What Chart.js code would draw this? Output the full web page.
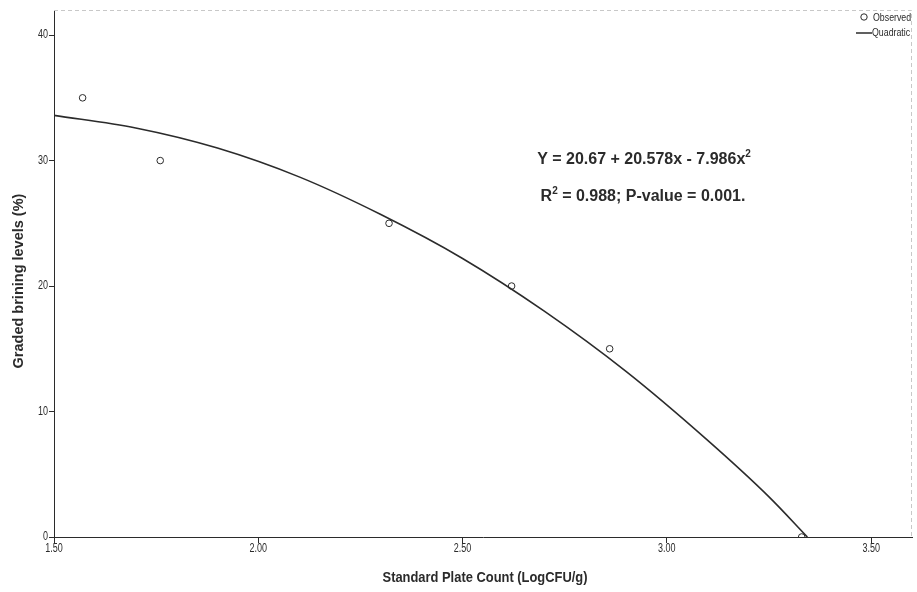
<!DOCTYPE html>
<html>
<head>
<meta charset="utf-8">
<script src="https://cdn.jsdelivr.net/npm/chart.js@4.4.1/dist/chart.umd.min.js"></script>
<style>
    html, body { margin: 0; padding: 0; background: #fff; }
    #wrap { width: 917px; height: 592px; }
</style>
</head>
<body>
<div id="wrap"><canvas id="chart" width="917" height="592"></canvas></div>
<script>
// observed points
const obsX = [1.57, 1.76, 2.32, 2.62, 2.86, 3.33];
const obsY = [35, 30, 25, 20, 15, 0];

// quadratic fit line
const fitX = [1.50, 1.70, 1.90, 2.10, 2.30, 2.50, 2.70, 2.90, 3.10, 3.25, 3.344];
const fitY = [33.6, 32.6, 31.0, 28.7, 25.7, 22.2, 18.0, 13.2, 7.7, 3.2, 0];

const xTicks = [1.5, 2.0, 2.5, 3.0, 3.5];
const yTicks = [0, 10, 20, 30, 40];

const sans = "'Liberation Sans', Arial, sans-serif";
const ink = "#2b2b2b";

const toPts = (xs, ys) => xs.map((x, i) => ({ x: x, y: ys[i] }));

// narrow text: Liberation Sans squeezed sideways
function narrowText(c, txt, x, y, squeeze, align) {
    c.save();
    c.translate(x, y);
    c.scale(squeeze, 1);
    c.textAlign = align;
    c.fillText(txt, 0, 0);
    c.restore();
}

// text with a raised small "2"
function supText(c, parts, cx, y, size) {
    c.save();
    const big = "bold " + size + "px " + sans;
    const small = "bold " + Math.round(size * 0.62) + "px " + sans;
    let total = 0;
    parts.forEach(p => {
        c.font = p.sup ? small : big;
        total += c.measureText(p.t).width;
    });
    let x = cx - total / 2;
    c.textAlign = "left";
    parts.forEach(p => {
        c.font = p.sup ? small : big;
        c.fillText(p.t, x, p.sup ? y - size * 0.42 : y);
        x += c.measureText(p.t).width;
    });
    c.restore();
}

const extras = {
    id: "extras",
    afterDraw(chart) {
        const c = chart.ctx;
        const a = chart.chartArea;
        const sx = chart.scales.x;
        const sy = chart.scales.y;
        c.save();

        // dashed frame top / right
        c.strokeStyle = "#c8c8c8";
        c.lineWidth = 1;
        c.setLineDash([4, 3]);
        c.beginPath();
        c.moveTo(a.left, a.top + 0.5);
        c.lineTo(a.right - 0.5, a.top + 0.5);
        c.lineTo(a.right - 0.5, a.bottom);
        c.stroke();
        c.setLineDash([]);

        c.fillStyle = ink;
        c.strokeStyle = ink;

        // tick labels
        c.font = "12px " + sans;
        c.textBaseline = "middle";
        sx.ticks.forEach(t => {
            narrowText(c, t.value.toFixed(2), sx.getPixelForValue(t.value), a.bottom + 12, 0.75, "center");
        });
        sy.ticks.forEach(t => {
            narrowText(c, String(t.value), a.left - 6, sy.getPixelForValue(t.value), 0.75, "right");
        });

        // axis titles
        c.font = "bold 15px " + sans;
        narrowText(c, "Standard Plate Count (LogCFU/g)", 485, 578, 0.86, "center");

        c.save();
        c.translate(19, 281);
        c.rotate(-Math.PI / 2);
        c.font = "bold 14.5px " + sans;
        c.textAlign = "center";
        c.fillText("Graded brining levels (%)", 0, 0);
        c.restore();

        // legend
        c.font = "11px " + sans;
        c.lineWidth = 1;
        c.beginPath();
        c.arc(864, 17, 3.2, 0, Math.PI * 2);
        c.stroke();
        narrowText(c, "Observed", 873, 18, 0.8, "left");
        c.lineWidth = 1.5;
        c.beginPath();
        c.moveTo(856, 33);
        c.lineTo(872, 33);
        c.stroke();
        narrowText(c, "Quadratic", 872, 33, 0.8, "left");

        // equation
        c.textBaseline = "alphabetic";
        supText(c, [
            { t: "Y = 20.67 + 20.578x - 7.986x" },
            { t: "2", sup: true }
        ], 644, 164, 16);
        supText(c, [
            { t: "R" },
            { t: "2", sup: true },
            { t: " = 0.988; P-value = 0.001." }
        ], 643, 201, 16);

        c.restore();
    }
};

new Chart(
    document.getElementById("chart"),
    {
        type: "scatter",

        data: {
            datasets: [
                {
                    label: "Quadratic",
                    data: toPts(fitX, fitY),
                    showLine: true,
                    borderColor: ink,
                    borderWidth: 1.6,
                    pointRadius: 0,
                    cubicInterpolationMode: "monotone",
                    order: 2
                },
                {
                    label: "Observed",
                    data: toPts(obsX, obsY),
                    pointRadius: 3.3,
                    pointBorderWidth: 1,
                    pointBackgroundColor: "rgba(0,0,0,0)",
                    pointBorderColor: ink,
                    order: 1
                }
            ]
        },

        options: {
            responsive: false,
            animation: false,
            layout: {
                padding: { top: 10, right: 2, left: 0, bottom: 0 }
            },
            plugins: {
                legend: { display: false },
                tooltip: { enabled: false }
            },
            scales: {
                x: {
                    type: "linear",
                    min: 1.5,
                    max: 3.6,
                    afterBuildTicks: s => { s.ticks = xTicks.map(v => ({ value: v })); },
                    afterFit: s => { s.height = 55; },
                    ticks: { display: false },
                    grid: {
                        drawOnChartArea: false,
                        color: ink,
                        tickLength: 6
                    },
                    border: { color: ink, width: 1 }
                },
                y: {
                    min: 0,
                    max: 42,
                    afterBuildTicks: s => { s.ticks = yTicks.map(v => ({ value: v })); },
                    afterFit: s => { s.width = 54; },
                    ticks: { display: false },
                    grid: {
                        drawOnChartArea: false,
                        color: ink,
                        tickLength: 5
                    },
                    border: { color: ink, width: 1 }
                }
            }
        },

        plugins: [extras]
    }
);
</script>
</body>
</html>
